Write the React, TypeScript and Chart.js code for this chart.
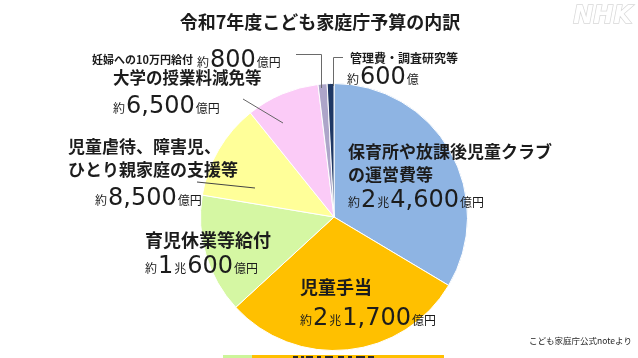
import React, { useEffect, useRef } from "react";
import { Chart, registerables } from "chart.js";
Chart.register(...registerables);

// ---- data (億円) ----
const categories = [
  "保育所や放課後児童クラブの運営費等",
  "児童手当",
  "育児休業等給付",
  "児童虐待、障害児、ひとり親家庭の支援等",
  "大学の授業料減免等",
  "妊婦への10万円給付",
  "管理費・調査研究等",
];
const values = [24600, 21700, 10600, 8500, 6500, 800, 600];
const nameLines = [
  ["保育所や放課後児童クラブ", "の運営費等"],
  ["児童手当"],
  ["育児休業等給付"],
  ["児童虐待、障害児、", "ひとり親家庭の支援等"],
  ["大学の授業料減免等"],
  ["妊婦への10万円給付"],
  ["管理費・調査研究等"],
];
const amountUnits = ["億円", "億円", "億円", "億円", "億円", "億円", "億"];
const titleText = "令和7年度こども家庭庁予算の内訳";
const sourceText = "こども家庭庁公式noteより";

// ---- styles / layout ----
const colors = ["#8EB4E3", "#FFC000", "#D5F7A3", "#FFFF99", "#FBCBF7", "#ADA5C9", "#1F3864"];
const labelLayout = [
  { x: 348, ys: [152, 175], size: 17, ax: 348, ab: 207 },
  { x: 300, ys: [287], size: 18, ax: 300, ab: 325 },
  { x: 145, ys: [240], size: 18, ax: 145, ab: 273 },
  { x: 68, ys: [147, 170], size: 17, ax: 95, ab: 205 },
  { x: 113, ys: [78], size: 16.5, ax: 113, ab: 113 },
  { x: 92, ys: [60], size: 11, ax: 197, ab: 67 },
  { x: 350, ys: [58], size: 12, ax: 347, ab: 84 },
];

const CJK = '"Noto Sans CJK JP", "Noto Sans", sans-serif';
const NUM = '"DejaVu Sans", sans-serif';
const TEXT = "#1c1c1c";

function amountRuns(v: number, unit: string) {
  const runs: { t: string; f: string }[] = [{ t: "約", f: `12px ${CJK}` }];
  const cho = Math.floor(v / 10000);
  const rest = v % 10000;
  if (cho > 0) {
    runs.push({ t: String(cho), f: `24px ${NUM}` });
    runs.push({ t: "兆", f: `12px ${CJK}` });
  }
  runs.push({ t: rest.toLocaleString("en-US"), f: `24px ${NUM}` });
  runs.push({ t: unit, f: `12px ${CJK}` });
  return runs;
}

function drawRuns(ctx: CanvasRenderingContext2D, runs: { t: string; f: string }[], x: number, baseline: number) {
  ctx.textBaseline = "alphabetic";
  ctx.textAlign = "left";
  let cx = x;
  for (const r of runs) {
    ctx.font = r.f;
    ctx.fillText(r.t, cx, baseline);
    cx += ctx.measureText(r.t).width + 1;
  }
}

const overlayPlugin = {
  id: "overlay",
  afterDraw(chart: any) {
    const ctx: CanvasRenderingContext2D = chart.ctx;
    ctx.save();
    ctx.fillStyle = TEXT;
    // title
    ctx.font = `bold 18px ${CJK}`;
    ctx.textAlign = "center";
    ctx.textBaseline = "middle";
    ctx.fillText(titleText, 320, 22);

    // leader lines
    ctx.lineWidth = 1;
    ctx.strokeStyle = "#6a6a6a";
    ctx.beginPath();
    ctx.moveTo(296, 54.5); ctx.lineTo(321.5, 54.5); ctx.lineTo(321.5, 88);
    ctx.moveTo(343, 57.5); ctx.lineTo(333.5, 57.5); ctx.lineTo(333.5, 86);
    ctx.stroke();
    ctx.strokeStyle = "#666";
    ctx.beginPath();
    ctx.moveTo(243, 99); ctx.lineTo(283, 123);
    ctx.stroke();
    ctx.strokeStyle = "#444";
    ctx.beginPath();
    ctx.moveTo(197, 182); ctx.lineTo(255, 188);
    ctx.stroke();

    // labels
    for (let i = 0; i < categories.length; i++) {
      const L = labelLayout[i];
      ctx.fillStyle = TEXT;
      ctx.font = `bold ${L.size}px ${CJK}`;
      ctx.textAlign = "left";
      ctx.textBaseline = "middle";
      nameLines[i].forEach((line, j) => ctx.fillText(line, L.x, L.ys[j]));
      drawRuns(ctx, amountRuns(values[i], amountUnits[i]), L.ax, L.ab);
    }

    // source
    ctx.fillStyle = "#222";
    ctx.font = `8.5px ${CJK}`;
    ctx.textAlign = "right";
    ctx.textBaseline = "middle";
    ctx.fillText(sourceText, 632, 341);

    // NHK watermark
    ctx.font = `italic bold 24px ${NUM}`;
    ctx.textAlign = "right";
    ctx.textBaseline = "middle";
    ctx.lineWidth = 1.5;
    ctx.strokeStyle = "#d8d8d8";
    ctx.strokeText("NHK", 632, 17);
    ctx.fillStyle = "#ffffff";
    ctx.fillText("NHK", 632, 17);

    // cropped strip at bottom edge (next panel, cut off)
    ctx.fillStyle = "#CCF59A";
    ctx.fillRect(223, 355, 29, 3);
    ctx.fillStyle = "#FFC000";
    ctx.fillRect(252, 355, 192, 3);
    ctx.fillStyle = "#2a2a2a";
    [[293, 5], [301, 3], [306, 7], [317, 4], [325, 8], [338, 6], [348, 4], [356, 9], [368, 6]].forEach(([x, w]) =>
      ctx.fillRect(x, 356, w, 2)
    );
    ctx.restore();
  },
};

export default function App() {
  const ref = useRef<HTMLCanvasElement>(null);
  useEffect(() => {
    document.body.style.margin = "0";
    const chart = new Chart(ref.current!, {
      type: "pie",
      data: {
        labels: categories,
        datasets: [
          {
            data: values,
            backgroundColor: colors,
            borderColor: "#ffffff",
            borderWidth: 1,
          },
        ],
      },
      options: {
        responsive: false,
        animation: false,
        devicePixelRatio: 1,
        layout: { padding: { top: 83, bottom: 7, left: 200, right: 170 } },
        plugins: { legend: { display: false }, tooltip: { enabled: false }, title: { display: false } },
      },
      plugins: [overlayPlugin],
    });
    return () => chart.destroy();
  }, []);
  return (
    <div style={{ position: "absolute", left: 0, top: 0, width: 638, height: 358, background: "#fff" }}>
      <canvas ref={ref} width={638} height={358} />
    </div>
  );
}
